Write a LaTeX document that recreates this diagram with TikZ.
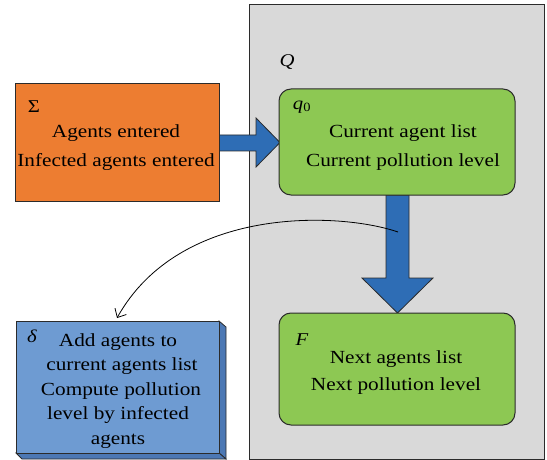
\documentclass[tikz,border=0pt]{standalone}
\usepackage{fontspec}
\setmainfont{Liberation Serif}[FakeStretch=1.15]
\usetikzlibrary{calc,arrows.meta}
\definecolor{qgray}{HTML}{D9D9D9}
\definecolor{orng}{HTML}{ED7D31}
\definecolor{grn}{HTML}{8DC853}
\definecolor{arrblue}{HTML}{2E6DB5}
\definecolor{dblue}{HTML}{6E9BD2}
\definecolor{dblueside}{HTML}{4C78B4}
\definecolor{edge}{HTML}{2B2B2B}
\tikzset{
  boxbase/.style={draw=edge, line width=1pt, inner sep=0pt, outer sep=0pt, anchor=north west},
  greenbox/.style={boxbase, fill=grn, rounded corners=12pt, minimum width=236pt, minimum height=106pt},
  txt/.style={align=center, font=\fontsize{18.5}{28.5}\selectfont, inner sep=0pt},
  lbl/.style={font=\fontsize{18}{20}\selectfont, inner sep=0pt},
  blockarrow/.style={draw=edge, line width=0.8pt, fill=arrblue},
}
\begin{document}
\begin{tikzpicture}[x=1pt,y=-1pt]
\useasboundingbox (0,0) rectangle (547,460);
% Q container
\node[boxbase, fill=qgray, minimum width=295pt, minimum height=454pt] (Q) at (249,5) {};
\node[lbl] (Qlbl) at (287,62) {\textit{Q}};
% block arrows
\draw[blockarrow] (219,135) -- (256,135) -- (256,118) -- (280,142.5) -- (256,167) -- (256,151) -- (219,151) -- cycle;
\draw[blockarrow] (386,195) -- (386,278) -- (362,278) -- (397.5,313) -- (433,278) -- (409,278) -- (409,195) -- cycle;
% Sigma box
\node[boxbase, fill=orng, minimum width=204pt, minimum height=117pt] (S) at (15,84) {};
\node[lbl] (Slbl) at (34,107) {Σ};
\node[txt] (Stxt) at (116,147.5) {Agents entered\\Infected agents entered};
% q0 box
\node[greenbox] (q0) at (279,89) {};
\node[lbl] (q0lbl) at (302,107) {\textit{q}\textsubscript{0}};
\node[txt] (q0txt) at (403,147.5) {Current agent list\\Current pollution level};
% F box
\node[greenbox, minimum height=112pt] (F) at (279,313) {};
\node[lbl] (Flbl) at (302,340) {\textit{F}};
\node[txt, font=\fontsize{18.5}{27}\selectfont] (Ftxt) at (396,372.5) {Next agents list\\Next pollution level};
% delta box (3D)
\fill[dblueside, draw=edge, line width=0.8pt] (219,321) -- (226,327) -- (226,459) -- (219,453) -- cycle;
\fill[dblueside, draw=edge, line width=0.8pt] (16,453) -- (219,453) -- (226,459) -- (22,459) -- cycle;
\node[boxbase, fill=dblue, minimum width=203pt, minimum height=132pt] (D) at (16,321) {};
\node[lbl] (Dlbl) at (32,336) {\textit{δ}};
\node[txt, font=\fontsize{18.5}{24.5}\selectfont] (Dtxt) at (118,391) {Add agents to\\\hspace*{8pt}current agents list\\\hspace*{6pt}Compute pollution\\level by infected\\agents};
% curved connector
\coordinate (cs) at (398,232);
\coordinate (ce) at (117,318);
\draw[line width=0.8pt, -{Straight Barb[length=7pt,width=13pt]}] (cs) .. controls (340,212) and (180,205) .. (ce);
\end{tikzpicture}
\end{document}
